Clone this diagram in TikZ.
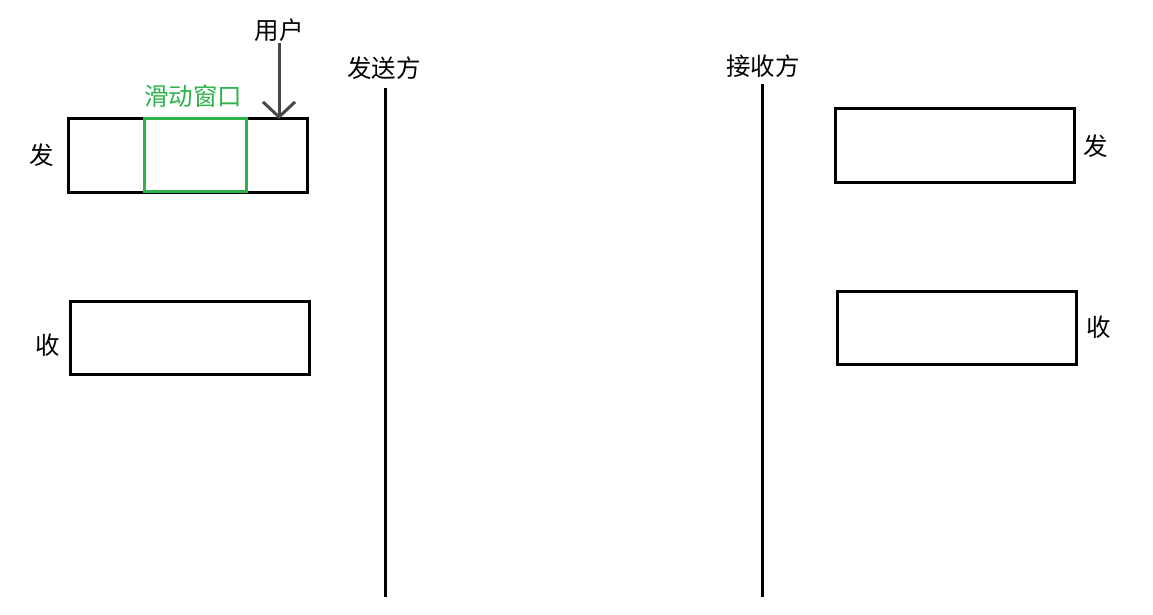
\documentclass[tikz,border=0pt]{standalone}
\usepackage{fontspec}
\setmainfont{Noto Sans CJK SC}
\usetikzlibrary{positioning,arrows.meta,calc}
\definecolor{verde}{HTML}{2DB34A}
\definecolor{cinza}{HTML}{474747}

\begin{document}
\begin{tikzpicture}[x=1pt,y=-1pt,node distance=8pt,
  rotulo/.style={inner sep=1pt,font=\fontsize{24.5}{28}\selectfont},
  buffer/.style={rectangle,draw=black,line width=3pt,minimum width=239pt,minimum height=73pt,inner sep=0pt},
  janela/.style={rectangle,draw=verde,line width=3pt,minimum width=102pt,minimum height=72pt,inner sep=0pt},
  eixo/.style={line width=3pt,black},
  seta/.style={-{Straight Barb[length=15pt,width=32pt]},line width=3pt,cinza}]
\useasboundingbox (0,0) rectangle (1153,615);
% lado do remetente
\node[buffer] (sbuf) at (187.5,155.5) {};
\node[buffer] (rbuf) at (189.5,337.5) {};
\node[janela] (win) at (195,155) {};
\node[rotulo] (slbl) at (42,155) {发};
\node[rotulo] (rlbl) at (48,345) {收};
\node[rotulo,text=verde] (winlbl) at (193,96) {滑动窗口};
\node[rotulo] (user) at (279,30) {用户};
\coordinate (uhit) at (279,119);
\draw[seta] (user.south) -- (uhit);
% linhas do tempo
\node[rotulo] (sender) at (384,68) {发送方};
\node[rotulo] (receiver) at (763,66) {接收方};
\coordinate (stop) at (385,88);
\coordinate (sbot) at (385,597);
\coordinate (rtop) at (762,84);
\coordinate (rbot) at (762,597);
\draw[eixo] (stop) -- (sbot);
\draw[eixo] (rtop) -- (rbot);
% lado do destinatario
\node[buffer] (sbuf2) at (954.5,145.5) {};
\node[buffer] (rbuf2) at (956.5,327.5) {};
\node[rotulo] (slbl2) at (1096,146) {发};
\node[rotulo] (rlbl2) at (1099,327) {收};
\end{tikzpicture}
\end{document}
